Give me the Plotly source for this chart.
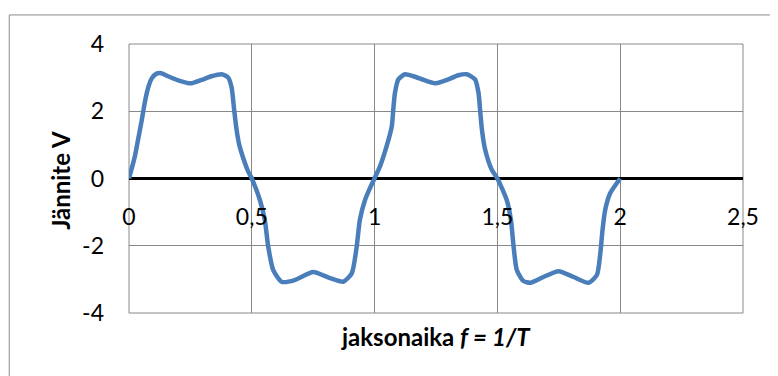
import plotly.graph_objects as go

# Curve
time = [0, 0.024, 0.037, 0.051, 0.064, 0.078, 0.092, 0.112, 0.132, 0.159, 0.200, 0.251,
        0.295, 0.336, 0.377, 0.404, 0.418, 0.428, 0.438, 0.449, 0.465, 0.485, 0.500, 0.533,
        0.553, 0.567, 0.587, 0.621, 0.675, 0.750, 0.818, 0.872, 0.907, 0.927, 0.940, 0.961,
        0.981, 1.000, 1.022, 1.049, 1.070, 1.076, 1.083, 1.097, 1.124, 1.158, 1.212, 1.250,
        1.294, 1.341, 1.375, 1.409, 1.423, 1.430, 1.437, 1.450, 1.477, 1.500, 1.538, 1.555,
        1.566, 1.579, 1.606, 1.634, 1.687, 1.749, 1.810, 1.871, 1.905, 1.919, 1.928, 1.939,
        1.959, 2.000]
voltage = [0, 0.66, 1.16, 1.70, 2.25, 2.70, 2.97, 3.12, 3.13, 3.04, 2.92, 2.83,
           2.93, 3.04, 3.10, 3.00, 2.70, 2.05, 1.45, 1.00, 0.61, 0.21, 0.00, -0.64,
           -1.24, -2.03, -2.72, -3.07, -3.02, -2.78, -2.96, -3.07, -2.82, -2.03, -1.23, -0.64,
           -0.29, 0.01, 0.36, 0.96, 1.55, 2.05, 2.55, 2.95, 3.10, 3.04, 2.90, 2.83,
           2.93, 3.07, 3.10, 2.95, 2.55, 2.00, 1.45, 0.86, 0.26, 0.00, -0.64, -1.23,
           -2.03, -2.72, -3.05, -3.10, -2.93, -2.76, -2.93, -3.10, -2.87, -2.23, -1.53, -0.93,
           -0.44, 0]

x_ticks = [0, 0.5, 1, 1.5, 2, 2.5]
x_tick_labels = ["0", "0,5", "1", "1,5", "2", "2,5"]
y_ticks = [-4, -2, 0, 2, 4]
y_tick_labels = ["-4", "-2", "0", "2", "4"]

FONT = "Lato"
GRID = "#888888"

fig = go.Figure()
fig.add_trace(go.Scatter(
    x=time, y=voltage, mode="lines",
    line=dict(color="#4A7EBB", width=4.5, shape="spline", smoothing=0.6),
    hoverinfo="skip", showlegend=False,
))

# the page body has an 8px margin, so the figure is drawn 8px smaller
fig.update_layout(
    width=770, height=368,
    margin=dict(l=121, r=35, t=36, b=63),
    paper_bgcolor="white", plot_bgcolor="white",
    font=dict(family=FONT, size=23, color="black"),
    showlegend=False,
    xaxis=dict(
        range=[0, 2.5], tickvals=x_ticks, ticktext=x_tick_labels,
        showgrid=True, gridcolor=GRID, gridwidth=1,
        zeroline=False, showline=False, ticks="",
        anchor="free", position=0.5, ticklabelstandoff=22,
    ),
    yaxis=dict(
        range=[-4, 4], tickvals=y_ticks, ticktext=y_tick_labels,
        showgrid=True, gridcolor=GRID, gridwidth=1,
        zeroline=True, zerolinecolor="black", zerolinewidth=3,
        showline=False, ticks="", ticklabelstandoff=24,
    ),
    shapes=[
        dict(type="rect", xref="paper", yref="paper", x0=0, x1=1, y0=0, y1=1,
             line=dict(color=GRID, width=1), layer="below"),
        dict(type="rect", xref="paper", yref="paper", x0=-0.195, x1=1.1, y0=-0.4, y1=1.108,
             line=dict(color="#8c8c8c", width=1), layer="below"),
    ],
    annotations=[
        dict(text="<b>Jännite V</b>", textangle=-90, xref="paper", yref="paper",
             x=-0.1128, y=0.494, xanchor="center", yanchor="middle", showarrow=False,
             font=dict(family=FONT, size=24)),
        dict(text="<b>jaksonaika <i>f = 1/T</i></b>", xref="paper", yref="paper",
             x=0.5, y=-0.089, xanchor="center", yanchor="middle", showarrow=False,
             font=dict(family=FONT, size=24)),
    ],
)

fig.write_html("out.html")
